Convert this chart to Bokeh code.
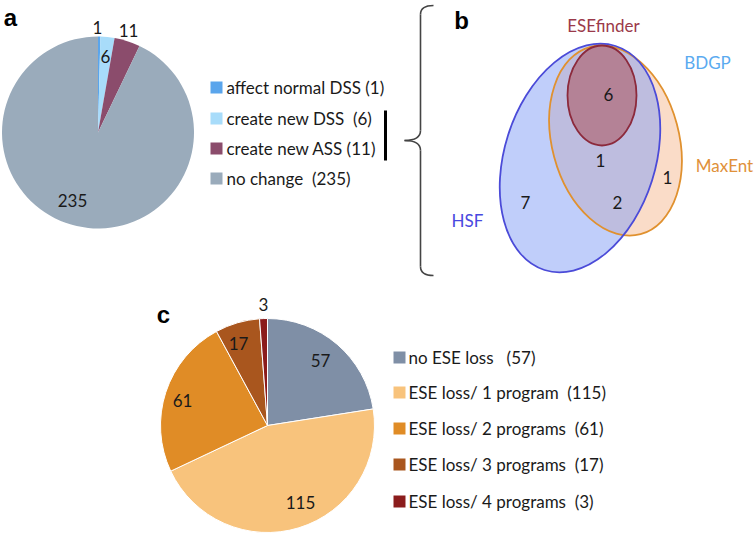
import math
from bokeh.plotting import figure
from bokeh.models import Range1d, ColumnDataSource
from bokeh.core.properties import value
from bokeh.embed import file_html
from bokeh.resources import INLINE

# ---------------- data ----------------
a_labels = ["affect normal DSS", "create new DSS", "create new ASS", "no change"]
a_values = [1, 6, 11, 235]
a_gaps = [" ", "\u00a0 ", " ", "\u00a0 "]

c_labels = ["no ESE loss", "ESE loss/ 1 program", "ESE loss/ 2 programs",
            "ESE loss/ 3 programs", "ESE loss/ 4 programs"]
c_values = [57, 115, 61, 17, 3]
c_gaps = ["\u00a0\u00a0 ", "\u00a0 ", "\u00a0 ", "\u00a0 ", "\u00a0 "]

venn_sets = ["ESEfinder", "BDGP", "MaxEnt", "HSF"]
venn_counts = [6, 1, 1, 7, 2]  # ESEfinder core, centre, MaxEnt only, HSF only, HSF+MaxEnt

# ---------------- styles / layout ----------------
a_colors = ["#5aa5ec", "#a8dcfa", "#8b4c6c", "#9aabbb"]
c_colors = ["#7f8fa6", "#f8c37c", "#e08c26", "#a9561e", "#8b1c1c"]
FONT = value("Lato")
W, H = 754, 535


def X(x):
    return x


def Y(y):
    return H - y


p = figure(width=W, height=H, x_range=Range1d(0, W), y_range=Range1d(0, H),
           output_backend="svg", toolbar_location=None, min_border=0,
           x_axis_type=None, y_axis_type=None)
p.grid.visible = False
p.outline_line_color = None
p.background_fill_color = "white"
p.border_fill_color = "white"


def pie(cx, cy, r, vals, colors, line_color):
    tot = float(sum(vals))
    cum = 0.0
    starts, ends = [], []
    for v in vals:
        c0 = cum / tot
        cum += v
        c1 = cum / tot
        starts.append(math.pi / 2 - 2 * math.pi * c1)
        ends.append(math.pi / 2 - 2 * math.pi * c0)
    src = ColumnDataSource(dict(x=[cx] * len(vals), y=[cy] * len(vals),
                                s=starts, e=ends, c=colors))
    p.wedge(x="x", y="y", radius=r, start_angle="s", end_angle="e",
            fill_color="c", line_color=line_color, line_width=1, source=src)


def texts(xs, ys, ts, size="17px", color="#1a1a1a", align="center",
          baseline="middle", font=FONT, style="normal"):
    src = ColumnDataSource(dict(x=[X(v) for v in xs], y=[Y(v) for v in ys], t=ts))
    p.text(x="x", y="y", text="t", source=src, text_font=font,
           text_font_size=size, text_color=color, text_align=align,
           text_baseline=baseline, text_font_style=style)


# ---------------- panel a ----------------
pie(X(97.5), Y(132), 96, a_values, a_colors, None)
texts([97, 128, 105, 72], [27, 30, 56, 200], [str(v) for v in [1, 11, 6, 235]])

a_rows = [87, 118, 148, 178]
p.rect(x=[X(216)] * 4, y=[Y(v) for v in a_rows], width=12, height=12,
       fill_color=a_colors, line_color=None)
texts([226] * 4, a_rows, [f"{l}{g}({v})" for l, g, v in zip(a_labels, a_gaps, a_values)],
      align="left")
p.segment(x0=[X(385)], y0=[Y(110)], x1=[X(385)], y1=[Y(160)],
          line_color="black", line_width=3)

texts([10], [17], ["a"], size="24px", color="black", align="center",
      baseline="alphabetic", font=value("Liberation Sans"), style="bold")

# ---------------- bracket ----------------
bc = "#444444"
p.quadratic(x0=[X(433), X(420), X(404), X(420)],
            y0=[Y(5), Y(130), Y(140), Y(266)],
            x1=[X(420), X(404), X(420), X(433)],
            y1=[Y(14), Y(140), Y(150), Y(275)],
            cx=[X(420), X(420), X(420), X(420)],
            cy=[Y(5), Y(140), Y(140), Y(275)],
            line_color=bc, line_width=1.6)
p.segment(x0=[X(420), X(420)], y0=[Y(14), Y(150)], x1=[X(420), X(420)],
          y1=[Y(130), Y(266)], line_color=bc, line_width=1.6)

texts([461], [20], ["b"], size="24px", color="black", baseline="alphabetic",
      font=value("Liberation Sans"), style="bold")

# ---------------- panel b (Venn) ----------------
deg = math.pi / 180
# MaxEnt, HSF, ESEfinder (fills then outlines)
ell = dict(x=[X(615), X(579.5), X(601.5)], y=[Y(140), Y(157.5), Y(95)],
           w=[127, 151, 69], h=[194, 235, 100], a=[15 * deg, -17.6 * deg, 0.0],
           f=["#f5b991", "#829ef5", "#aa474e"],
           l=["#e0912f", "#4b4bd8", "#8c2a3c"])
for i in range(3):
    p.ellipse(x=ell["x"][i], y=ell["y"][i], width=ell["w"][i], height=ell["h"][i],
              angle=ell["a"][i], fill_color=ell["f"][i], fill_alpha=0.5,
              line_color=None)
p.ellipse(x=ell["x"], y=ell["y"], width=ell["w"], height=ell["h"], angle=ell["a"],
          fill_color=None, line_color=ell["l"], line_width=1.8)

set_pos_x = [603, 707, 724, 467]
set_pos_y = [25, 62, 165, 220]
set_colors = ["#9b3a4a", "#5aaaf0", "#e0913a", "#4848e0"]
for sx, sy, s, c in zip(set_pos_x, set_pos_y, venn_sets, set_colors):
    texts([sx], [sy], [s], color=c)

texts([608, 600, 667, 525, 617], [94, 160, 177, 202, 202],
      [str(v) for v in venn_counts])

# ---------------- panel c ----------------
pie(X(267), Y(425), 107, c_values, c_colors, "white")
texts([320, 300, 182, 238, 263], [360, 502, 400, 343, 304],
      [str(v) for v in c_values])

c_rows = [357, 392, 428, 464, 501]
p.rect(x=[X(399)] * 5, y=[Y(v) for v in c_rows], width=12, height=12,
       fill_color=c_colors, line_color=None)
texts([408] * 5, c_rows, [f"{l}{g}({v})" for l, g, v in zip(c_labels, c_gaps, c_values)],
      align="left")

texts([163], [314], ["c"], size="24px", color="black", baseline="alphabetic",
      font=value("Liberation Sans"), style="bold")

open("out.html", "w").write(file_html(p, INLINE))
